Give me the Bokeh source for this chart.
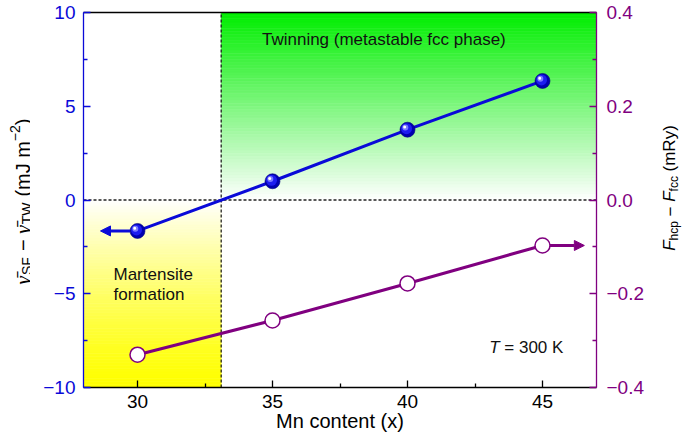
import numpy as np
from bokeh.plotting import figure
from bokeh.layouts import row
from bokeh.models import Range1d, LinearAxis, FixedTicker, Label, Arrow, NormalHead
from bokeh.embed import file_html
from bokeh.resources import INLINE

# ---------------- data ----------------
mn_content = [30, 35, 40, 45]
gamma_diff = [-1.65, 1.0, 3.75, 6.35]          # left axis (mJ m^-2)
f_diff = [-0.330, -0.257, -0.178, -0.097]      # right axis (mRy)

x_ticks = [30, 35, 40, 45]
x_minor = [32.5, 37.5, 42.5]
y_ticks = [-10, -5, 0, 5, 10]
y_minor = [-7.5, -2.5, 2.5, 7.5]
y_tick_labels = ["\u221210", "\u22125", "0", "5", "10"]
f_ticks = [-0.4, -0.2, 0.0, 0.2, 0.4]
f_minor = [-0.3, -0.1, 0.1, 0.3]
f_tick_labels = ["\u22120.4", "\u22120.2", "0.0", "0.2", "0.4"]

x_lim = (28, 47)
y_lim = (-10, 10)
f_lim = (-0.4, 0.4)
boundary_x = 33.1
blue_arrow_end = 28.63
purple_arrow_end = 46.55

# ---------------- style / layout ----------------
FONT = "Liberation Sans"
SERIF = "Liberation Serif"
BLUE = "#0a0ad8"
PURPLE = "#800080"
LW, RW = 30, 37                       # side strips holding the rotated axis titles
MW, MH = 617, 443                     # main figure
BL, BR, BT, BB = 53, 50, 12, 56       # main borders
FW, FH = MW - BL - BR, MH - BT - BB   # frame size

p = figure(width=MW, height=MH,
           x_range=Range1d(*x_lim), y_range=Range1d(*y_lim),
           output_backend="svg", toolbar_location=None,
           min_border_left=BL, min_border_right=BR,
           min_border_top=BT, min_border_bottom=BB,
           background_fill_color="white", border_fill_color="white",
           outline_line_color=None)
p.extra_y_ranges = {"f": Range1d(*f_lim)}
p.grid.visible = False


def rgb(r, g, b):
    return "#%02x%02x%02x" % (int(round(r)), int(round(g)), int(round(b)))


# gradient backgrounds (stripes)
n = 60
edges = np.linspace(0, 1, n + 1)
tm = (edges[:-1] + edges[1:]) / 2
green = [rgb(255 * (1 - t), 255 - 17 * t, 255 * (1 - t)) for t in tm]
p.quad(left=boundary_x, right=x_lim[1], bottom=y_lim[1] * edges[:-1], top=y_lim[1] * edges[1:],
       fill_color=green, line_color=green, line_width=0.6)
yellow = [rgb(255, 255, 255 * (1 - t) ** 1.3) for t in tm]
p.quad(left=x_lim[0], right=boundary_x, bottom=y_lim[0] * edges[1:], top=y_lim[0] * edges[:-1],
       fill_color=yellow, line_color=yellow, line_width=0.6)

# dotted reference lines
p.segment(x0=[x_lim[0]], y0=[0], x1=[x_lim[1]], y1=[0], line_dash="3 2",
          line_color="#222222", line_width=1.3)
p.segment(x0=[boundary_x], y0=[y_lim[0]], x1=[boundary_x], y1=[y_lim[1]], line_dash="3 2",
          line_color="#222222", line_width=1.3)

px_x = (x_lim[1] - x_lim[0]) / FW
px_y = (y_lim[1] - y_lim[0]) / FH
MS = 15

# arrows
p.add_layout(Arrow(end=NormalHead(size=10, fill_color=BLUE, line_color=BLUE),
                   x_start=mn_content[0] - MS / 2 * px_x, y_start=gamma_diff[0],
                   x_end=blue_arrow_end, y_end=gamma_diff[0],
                   line_color=BLUE, line_width=3))
p.add_layout(Arrow(end=NormalHead(size=10, fill_color=PURPLE, line_color=PURPLE),
                   x_start=mn_content[-1] + MS / 2 * px_x, y_start=f_diff[-1],
                   x_end=purple_arrow_end, y_end=f_diff[-1],
                   line_color=PURPLE, line_width=3, y_range_name="f"))

# lines
p.line(mn_content, gamma_diff, line_color=BLUE, line_width=3)
p.line(mn_content, f_diff, line_color=PURPLE, line_width=3, y_range_name="f")

# blue spheres
gx = np.array(mn_content, dtype=float)
gy = np.array(gamma_diff, dtype=float)
p.scatter(gx, gy, size=MS, fill_color="#0000b0", line_color="#00007a", line_width=0.6)
p.scatter(gx - 1.0 * px_x, gy + 1.0 * px_y, size=11, fill_color="#1c1cf0", line_color=None)
p.scatter(gx - 2.2 * px_x, gy + 2.2 * px_y, size=6, fill_color="#7a7aff", line_color=None)
p.scatter(gx - 2.8 * px_x, gy + 2.8 * px_y, size=3, fill_color="#ffffff", line_color=None)

# purple open circles
p.scatter(mn_content, f_diff, size=MS, fill_color="white", line_color=PURPLE,
          line_width=1.5, y_range_name="f")


# ---------------- axes ----------------
def style_axis(ax, color, ticks, minor, labels=None):
    ax.ticker = FixedTicker(ticks=ticks, minor_ticks=minor)
    ax.axis_line_color = color
    ax.axis_line_width = 1.3
    ax.major_tick_line_color = color
    ax.minor_tick_line_color = color
    ax.major_tick_line_width = 1.3
    ax.minor_tick_line_width = 1.3
    ax.major_tick_in = 7
    ax.major_tick_out = 0
    ax.minor_tick_in = 4
    ax.minor_tick_out = 0
    ax.major_label_text_color = color
    ax.major_label_text_font = FONT
    ax.major_label_text_font_size = "19px"
    if labels:
        ax.major_label_overrides = {t: l for t, l in zip(ticks, labels)}


style_axis(p.xaxis[0], "black", x_ticks, x_minor)
p.xaxis[0].major_label_standoff = 7
p.xaxis[0].axis_label = "Mn content (x)"
p.xaxis[0].axis_label_text_font = FONT
p.xaxis[0].axis_label_text_font_size = "20px"
p.xaxis[0].axis_label_text_font_style = "normal"
p.xaxis[0].axis_label_text_color = "black"
p.xaxis[0].axis_label_standoff = -1
style_axis(p.yaxis[0], BLUE, y_ticks, y_minor, y_tick_labels)
p.yaxis[0].major_label_standoff = 8

right = LinearAxis(y_range_name="f")
style_axis(right, PURPLE, f_ticks, f_minor, f_tick_labels)
right.major_label_standoff = 10
p.add_layout(right, "right")

top = LinearAxis(ticker=FixedTicker(ticks=[]), axis_line_color="black", axis_line_width=1.3,
                 major_tick_in=0, major_tick_out=0, minor_tick_in=0, minor_tick_out=0,
                 major_label_text_font_size="0px", major_label_standoff=0)
p.add_layout(top, "above")

# ---------------- in-plot texts ----------------
TXT = dict(text_font=FONT, text_font_size="17px", text_baseline="middle", text_color="#111111")
p.add_layout(Label(x=34.61, y=8.58, text="Twinning (metastable fcc phase)", **TXT))
p.add_layout(Label(x=29.11, y=-3.97, text="Martensite", **TXT))
p.add_layout(Label(x=29.11, y=-5.03, text="formation", **TXT))
p.add_layout(Label(x=43.03, y=-7.87, text="T", text_font_style="italic", **TXT))
p.add_layout(Label(x=43.03, y=-7.87, x_offset=15.0, text="= 300 K", **TXT))


# ---------------- side strips with rotated axis titles ----------------
# frames share the main frame's vertical extent; coordinates are pixels above the frame bottom
def strip(w):
    s = figure(width=w, height=MH, x_range=Range1d(0, w), y_range=Range1d(0, FH),
               output_backend="svg", toolbar_location=None, title=None,
               min_border_left=0, min_border_right=0, min_border_top=BT, min_border_bottom=BB,
               x_axis_location=None, y_axis_location=None,
               background_fill_color="white", border_fill_color="white",
               outline_line_color=None)
    s.grid.visible = False
    return s


def pieces_label(fig, pieces, base, start):
    """pieces: (text, font, size_px, advance_px, cross_shift_px, style); text reads bottom to top"""
    pos = start
    for text, font, size, adv, cross, style in pieces:
        fig.add_layout(Label(x=base + cross, y=pos, angle=np.pi / 2, text=text,
                             text_font=font, text_font_size=f"{size}px", text_font_style=style,
                             text_align="left", text_baseline="alphabetic", text_color="black"))
        pos += adv


frame_bottom_page = BT + FH

left_strip = strip(LW)
left_pieces = [
    ("\u03b3\u0304", SERIF, 21, 9.5, 0, "italic"),
    ("SF", FONT, 14, 24.0, 4, "normal"),
    ("\u2212", FONT, 20, 17.3, 0, "normal"),
    ("\u03b3\u0304", SERIF, 21, 9.5, 0, "italic"),
    ("TW", FONT, 14, 27.6, 4, "normal"),
    ("(mJ m", FONT, 20, 55.4, 0, "normal"),
    ("\u22122", FONT, 14, 16.0, -8, "normal"),
    (")", FONT, 20, 6.7, 0, "normal"),
]
tot = sum(pc[3] for pc in left_pieces)
pieces_label(left_strip, left_pieces, 22, (frame_bottom_page - 201) - tot / 2)

right_strip = strip(RW)
right_pieces = [
    ("F", FONT, 17, 10.4, 0, "italic"),
    ("hcp", FONT, 12, 24.0, 4, "normal"),
    ("\u2212", FONT, 17, 14.6, 0, "normal"),
    ("F", FONT, 17, 10.4, 0, "italic"),
    ("fcc", FONT, 12, 20.0, 4, "normal"),
    ("(mRy)", FONT, 17, 46.3, 0, "normal"),
]
tot = sum(pc[3] for pc in right_pieces)
pieces_label(right_strip, right_pieces, 22, (frame_bottom_page - 187.5) - tot / 2)

layout = row(left_strip, p, right_strip)

open("out.html", "w").write(file_html(layout, INLINE))
